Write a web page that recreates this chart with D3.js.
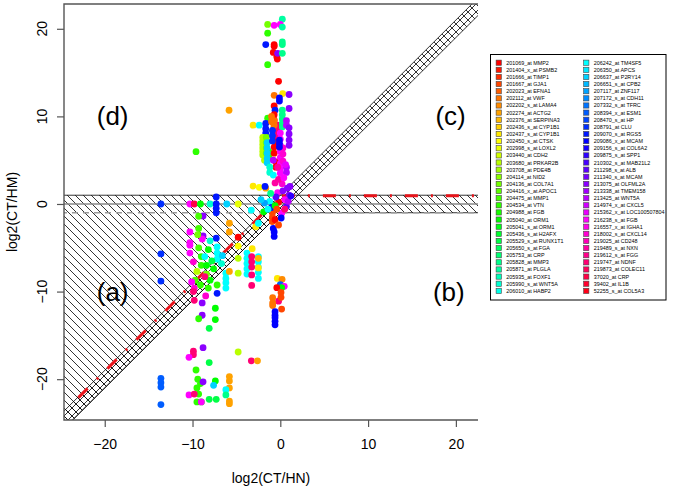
<!DOCTYPE html>
<html><head><meta charset="utf-8">
<script src="https://cdn.jsdelivr.net/npm/d3@7"></script>
<style>body{margin:0;background:#fff;}svg{display:block;font-family:"Liberation Sans",Arial,Helvetica,sans-serif;}</style>
</head><body><svg id="c" width="674" height="488"></svg>
<script>
// ---------- data ----------
const xTicks = [-20, -10, 0, 10, 20];
const yTicks = [-20, -10, 0, 10, 20];
const xDomain = [-24.64, 22.52];
const yDomain = [-24.66, 22.83];
const legendLabels = [
"201069_at MMP2","201404_x_at PSMB2","201666_at TIMP1","201667_at GJA1","202023_at EFNA1","202112_at VWF",
"202202_s_at LAMA4","202274_at ACTG2","202376_at SERPINA3","202436_s_at CYP1B1","202437_s_at CYP1B1","202450_s_at CTSK",
"202998_s_at LOXL2","203440_at CDH2","203680_at PRKAR2B","203708_at PDE4B","204114_at NID2","204136_at COL7A1",
"204416_x_at APOC1","204475_at MMP1","204534_at VTN","204988_at FGB","205040_at ORM1","205041_s_at ORM1",
"205436_s_at H2AFX","205529_s_at RUNX1T1","205650_s_at FGA","205753_at CRP","205828_at MMP3","205871_at PLGLA",
"205935_at FOXF1","205990_s_at WNT5A","206010_at HABP2",
"206242_at TM4SF5","206350_at APCS","206637_at P2RY14","206651_s_at CPB2","207117_at ZNF117","207172_s_at CDH11",
"207332_s_at TFRC","208394_x_at ESM1","208470_s_at HP","208791_at CLU","209070_s_at RGS5","209086_x_at MCAM",
"209156_s_at COL6A2","209875_s_at SPP1","210302_s_at MAB21L2","211298_s_at ALB","211340_s_at MCAM","213075_at OLFML2A",
"213338_at TMEM158","213425_at WNT5A","214974_x_at CXCL5","215362_x_at LOC100507804","216238_s_at FGB","216557_x_at IGHA1",
"218002_s_at CXCL14","219025_at CD248","219489_s_at NXN","219612_s_at FGG","219747_at NDNF","219873_at COLEC11",
"37020_at CRP","39402_at IL1B","52255_s_at COL5A3"];
// points: [log2(CT/HN), log2(CT/HM), series index]
const pointsLeft = [
[-13.6,0,42],[-13.6,-5.7,42],[-13.6,-8.8,42],[-13.6,-19.9,40],[-13.6,-20.4,40],[-13.6,-20.9,40],[-13.6,-22.9,40],
[-9.6,5.97,20],[-5.84,10.7,7],
[-10.3,0,55],[-9.8,0,63],[-9.1,0,22],[-8.0,0,31],[-7.3,0.8,43],[-7.3,0,43],[-7.3,-0.5,43],[-7.3,-1,43],[-6.1,0,35],[-4.8,0,12],
[-8.8,-1.37,50],[-9.3,-1.4,19],[-5.8,-2.2,7],[-5.8,-3.2,7],[-10.3,-3.2,55],[-9.3,-2.8,19],[-10.3,-4.4,55],[-8.8,-3.65,50],
[-8.9,-4.0,55],[-7.3,-3.9,43],[-4.8,-3.8,0],[-10.3,-4.7,55],[-10.3,-5.6,55],[-9.9,-6.6,57],
[-9.3,-5.0,19],[-9.0,-6.0,20],[-9.0,-7.0,20],[-8.4,-7.0,22],[-9.7,-8.7,19],[-9.1,-9.25,20],[-8.0,-8.7,22],[-7.2,-9.25,20],[-8.4,-8.0,17],
[-7.2,-4.9,33],[-7.2,-5.6,33],[-7.2,-6.3,33],[-6.2,-7.9,33],[-6.2,-8.5,33],[-6.2,-9.0,33],[-6.2,-9.6,33],
[-8.6,-8.3,61],[-10.1,-8.9,55],[-9.8,-9.6,57],[-7.2,-10.2,43],[-4.8,-6.2,14],[-4.8,-7.9,14],[-5.8,-7.7,7],[-4.8,-4.8,11],
[-9.4,-3.5,17],[-8.2,-5.2,22],[-8.6,-6.0,33],[-7.8,-6.5,25],[-8.2,-9.6,20],[-9.5,-7.7,14],[-8.0,-4.2,31],[-7.6,-7.4,22],
[-6.7,-6.8,31],[-6.6,-5.9,35],[-9.9,-10.0,61],[-8.5,-10.5,57],
[-9.8,-11.0,61],[-8.9,-11.3,50],[-8.9,-12.7,50],[-9.3,-13.1,20],[-7.4,-11.9,22],[-7.4,-13.2,22],[-8.1,-14.2,25],
[-8.8,-16.4,50],[-9.9,-16.8,61],[-9.9,-17.2,61],[-10.4,-17.5,55],[-8.1,-18.1,25],
[-9.6,-18.95,20],[-9.4,-20.0,20],[-9.1,-20.5,20],[-9.5,-21.0,20],[-9.3,-21.7,20],[-9.5,-22.6,20],[-9.0,-22.6,22],
[-10.4,-21.8,55],[-9.8,-21.7,61],[-8.8,-20.3,50],[-9.0,-22.6,55],[-7.4,-20.2,22],[-7.6,-20.7,35],[-8.1,-22.3,25],[-7.3,-22.3,25],
[-5.8,-19.7,7],[-5.8,-20.2,7],[-5.8,-21.0,7],[-5.8,-22.5,7],[-5.8,-22.8,7],[-6.2,-21.2,33],[-6.2,-21.8,28],
[-4.8,-16.9,14],[-3.3,-17.9,61],[-2.6,-17.9,7]
];
const pointsMid = [
[-3.8,-5.6,33],[-3.8,-6.2,33],[-3.8,-6.8,33],[-3.8,-7.4,33],[-3.8,-8.0,33],
[-2.5,-6.0,33],[-2.5,-6.6,33],[-2.5,-7.2,33],[-2.5,-7.8,33],[-2.5,-8.5,33],
[-3.26,-6.0,61],[-3.26,-6.6,61],[-3.26,-7.2,61],[-3.26,-8.1,61],[-3.26,-9.3,61],
[-3.2,-5.1,10],[-2.5,-6.2,8],[-2.5,-7.3,10],
[-0.34,-8.5,10],[0.2,-8.6,6],[0,-9.2,40],[0.45,-9.4,55],[0.15,-9.55,22],[-0.4,-9.55,0],[0.08,-10.1,3],
[-0.2,-11.1,61],[0.08,-10.65,3],[-0.87,-10.7,5],[-0.87,-11.3,5],[-0.87,-11.6,5],[0.15,-12.0,3],
[-0.6,-12.3,44],[-0.6,-12.7,44],[-0.6,-13.0,44],[-0.6,-13.4,44],[-0.6,-13.8,44],
[-0.7,-3.2,44],[-0.7,-3.7,44],[-0.8,-2.8,44],[-0.9,-1,3],[-0.9,-1.5,3],[-0.9,-2,3],[-0.6,-1.8,0],[0.15,-1.06,55],
[-3.3,-0.7,33],[-2.8,-2.6,10],[-2.5,-2.2,33],[-1.9,-0.9,22],[0.1,-1.6,44],[-0.2,-2.4,3]
];
const pointsTop = [
[0.23,21.1,29],[-1.44,20.5,17],[-0.7,20.4,55],[0,20.5,55],[0.23,20.2,29],[-1.44,19.5,20],
[0.23,18.5,28],[0.23,18.2,28],[-1.66,18.2,43],[-0.7,18.2,0],[-0.7,18.0,0],[-0.8,17.3,0],[-0.4,16.8,0],[-0.34,16.55,0],
[-0.3,17.2,50],[0.23,17.2,28],[-1.44,15.9,20],[-0.2,14.0,0],
[-0.7,12.4,5],[0.27,12.6,10],[1.0,12.5,50],[-0.1,12.1,44],[-0.1,11.75,44],[1.0,10.9,50],[-0.7,11.2,0],[-0.6,10.7,43],
[-3.1,9.0,10],[-2.4,9.0,33],[-1.44,9.8,20],
[-1.66,9.2,43],[-1.66,8.6,43],[-1.66,8.1,43],
[-2.0,7.6,14],[-2.0,7.2,14],[-2.0,6.8,14],[-2.0,6.4,14],[-2.0,6.0,14],[-2.0,5.6,14],
[-1.8,7.4,14],[-1.8,6.8,14],[-1.8,6.2,14],[-1.8,5.6,14],[-1.8,5.0,14],
[-1.6,7.6,17],[-1.6,7.0,17],[-1.6,6.4,17],[-1.6,5.8,17],[-1.3,6.0,20],[-1.3,5.4,20],
[-1.5,7.0,35],[-1.5,6.4,35],[-1.5,5.8,35],[-1.5,5.2,35],[-1.5,4.7,35],
[-0.7,10.2,0],[-0.7,9.6,0],[-0.7,8.8,0],[-0.7,8.0,0],[-0.7,7.2,0],[-0.7,6.5,0],[-0.7,5.8,0],
[-0.5,7.5,0],[-0.5,6.9,0],[-0.5,4.8,0],[-0.5,4.2,0],
[-0.3,9.0,61],[-0.3,8.4,61],[-0.3,7.8,61],
[-0.7,9.5,5],[-0.7,9.0,5],[-1.0,10.0,5],[-1.0,9.4,5],
[-0.9,8.4,42],[-0.9,7.8,42],[-0.9,7.2,42],
[0.23,10.7,28],[0.23,10.2,28],[0.23,9.7,28],[0.23,9.2,28],[0.23,8.8,28],
[0,8.1,55],[0,7.4,55],[0,6.7,55],[0,6.0,55],[0,5.3,55],[0,4.6,55],[0,4.0,55],[0,3.5,55],
[0.3,6.4,57],[0.3,5.7,57],[0.3,4.9,57],
[0.7,9.5,52],[0.7,9.0,52],[0.7,4.2,52],[0.7,3.6,52],
[1.0,8.7,50],[1.0,8.0,50],[1.0,7.3,50],[1.0,6.7,50],
[-0.1,7.3,44],[-0.1,6.9,44],[-0.1,6.5,44],
[-1.2,4.2,31],[-1.2,3.6,31],
[-0.8,3.3,33],[-3.1,2.05,10],[-2.4,1.9,11],[-1.66,1.8,7],[-1.74,2.0,43],[1.1,2.0,50],
[1.0,1.0,50],[0.5,0.5,55],[-0.2,0.2,0],[0.7,-0.3,48],[-1.2,0.3,33],[-1.0,-0.4,43],[-0.6,-0.2,22],
[-0.3,1.3,55],[0.2,2.3,57],[-0.2,2.8,59],[0.8,1.8,50],[-0.8,5.0,52],[0.6,4.5,54],[-0.3,4.2,59],
[-0.5,0.8,48],[0.3,1.5,50],[0.9,0.3,52],[-1.4,-0.6,33],[-1.8,0.1,37],[0.5,-0.6,61],[-0.4,-0.6,3],
[1.2,0.9,46],[0.4,3.0,55],[-0.6,2.4,59],[-1.1,1.2,28],[-2.2,0.5,35]
];
// red dashed boundary line
const redLineX = [-23.0, 0.05, 22.5];
const redLineY = [-22.1, 0.95, 0.95];

// ---------- drawing ----------
const svg = d3.select("#c");
const x = d3.scaleLinear().domain(xDomain).range([64, 478]);
const y = d3.scaleLinear().domain(yDomain).range([420, 4]);
const rainbow = n => d3.range(n).map(i => d3.hsl(360 * i / n, 1, 0.5).formatHex());
const colors = rainbow(legendLabels.length);

const defs = svg.append("defs");
defs.append("clipPath").attr("id", "plotclip").append("rect")
  .attr("x", 64).attr("y", 4).attr("width", 414).attr("height", 416);
function hatch(id, back, fwd) {
  const p = defs.append("pattern").attr("id", id).attr("patternUnits", "userSpaceOnUse")
    .attr("width", 8).attr("height", 8);
  let d = "";
  if (back) d += "M-1,-1L9,9M-1,7L1,9M7,-1L9,1";
  if (fwd) d += "M-1,9L9,-1M-1,1L1,-1M7,9L9,7";
  p.append("path").attr("d", d).attr("stroke", "#000").attr("stroke-width", 0.8).attr("fill", "none");
}
hatch("hb", true, false);
hatch("hx", true, true);

const g = svg.append("g").attr("clip-path", "url(#plotclip)");
const line = d3.line().x(d => x(d[0])).y(d => y(d[1]));
const X0 = -30, X1 = 30;
g.append("path").attr("d", line([[X0, 1], [X1, 1], [X1, -1], [0, -1], [X0 + 1, X0], [X0, X0]]) + "Z")
  .attr("fill", "url(#hb)").attr("stroke", "#000").attr("stroke-width", 0.8);
g.append("path").attr("d", line([[X0, X0 - 1], [X1, X1 - 1], [X1, X1 + 1], [X0, X0 + 1]]) + "Z")
  .attr("fill", "url(#hx)").attr("stroke", "#000").attr("stroke-width", 0.8);
g.append("path").attr("d", line([[X0, 0], [X1, 0]])).attr("stroke", "#888").attr("stroke-width", 1.3);
g.append("path").attr("d", line([[X0, -1], [X1, -1]])).attr("stroke", "#999").attr("stroke-width", 1.3)
  .attr("stroke-dasharray", "6,5");
g.append("path").attr("d", line(redLineX.map((v, i) => [v, redLineY[i]])))
  .attr("fill", "none").attr("stroke", "#e8141b").attr("stroke-width", 3)
  .attr("stroke-dasharray", "13,13,2,13");
const pts = pointsLeft.concat(pointsMid, pointsTop);
g.selectAll("circle.pt").data(pts).join("circle").attr("class", "pt")
  .attr("cx", d => x(d[0])).attr("cy", d => y(d[1])).attr("r", 3.4)
  .attr("fill", d => colors[d[2]]);

const regions = [["(d)", -19.1, 10], ["(c)", 19.4, 10], ["(a)", -19.1, -10], ["(b)", 19.2, -10]];
svg.selectAll("text.reg").data(regions).join("text").attr("class", "reg")
  .attr("x", d => x(d[1])).attr("y", d => y(d[2])).attr("text-anchor", "middle")
  .attr("dominant-baseline", "central").attr("font-size", 26).attr("fill", "#000").text(d => d[0]);

const axc = "#555";
svg.append("path").attr("d", "M478,4H64V420H478").attr("fill", "none").attr("stroke", axc).attr("stroke-width", 1.4);

const fmt = d => d < 0 ? "\u2212" + Math.abs(d) : d;
const xa = svg.append("g").attr("transform", "translate(0,420)")
  .call(d3.axisBottom(x).tickValues(xTicks).tickSize(7).tickPadding(12).tickFormat(fmt));
xa.select(".domain").remove();
xa.selectAll("line").attr("stroke", axc).attr("stroke-width", 1.2);
xa.selectAll("text").attr("font-size", 14).attr("fill", "#000").attr("font-family", "Liberation Sans, Arial, sans-serif");
const ya = svg.append("g").attr("transform", "translate(64,0)")
  .call(d3.axisLeft(y).tickValues(yTicks).tickSize(7).tickFormat(""));
ya.select(".domain").remove();
ya.selectAll("line").attr("stroke", axc).attr("stroke-width", 1.2);
svg.selectAll("text.yt").data(yTicks).join("text").attr("class", "yt")
  .attr("transform", d => `translate(42,${y(d)}) rotate(-90)`).attr("text-anchor", "middle")
  .attr("dominant-baseline", "central").attr("font-size", 14).text(fmt);
svg.append("text").attr("x", 271).attr("y", 478).attr("text-anchor", "middle").attr("dominant-baseline", "central")
  .attr("font-size", 14).text("log2(CT/HN)");
svg.append("text").attr("transform", "translate(12,212) rotate(-90)").attr("text-anchor", "middle")
  .attr("dominant-baseline", "central").attr("font-size", 14).text("log2(CT/HM)");

const lg = svg.append("g");
lg.append("rect").attr("x", 490.5).attr("y", 54.5).attr("width", 175.5).attr("height", 245.5)
  .attr("fill", "#fff").attr("stroke", "#000").attr("stroke-width", 1);
const perCol = 33;
const items = lg.selectAll("g.it").data(legendLabels).join("g").attr("class", "it")
  .attr("transform", (d, i) => `translate(${i < perCol ? 498.7 : 586.3},${62.7 + (i % perCol) * 7.13})`);
items.append("rect").attr("x", -2.6).attr("y", -2.6).attr("width", 5.2).attr("height", 5.2)
  .attr("fill", (d, i) => colors[i]).attr("stroke", "#444").attr("stroke-width", 0.6);
items.append("text").attr("x", 7.5).attr("dominant-baseline", "central").attr("font-size", 5.4).text(d => d);
</script></body></html>
